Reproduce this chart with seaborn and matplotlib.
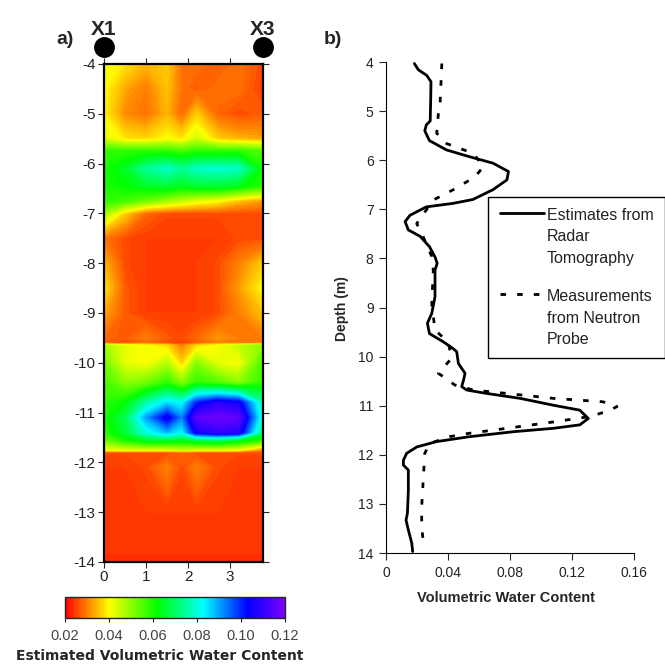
import numpy as np
import pandas as pd
import matplotlib
matplotlib.use('Agg')
import matplotlib.pyplot as plt
import seaborn as sns
from matplotlib.colors import LinearSegmentedColormap, Normalize
from matplotlib.lines import Line2D
from matplotlib.legend_handler import HandlerLine2D

sns.set_style('ticks')
plt.rcParams['font.family'] = ['Liberation Sans', 'DejaVu Sans']
plt.rcParams['axes.unicode_minus'] = False

# ---------------- data: panel a (tomogram) ----------------
section_x = [0.0, 0.5, 1.0, 1.5, 1.85, 2.2, 2.7, 3.2, 3.78]
section_depth = [-4.0, -4.5, -5.0, -5.5, -5.75, -6.1, -6.45, -6.75, -7.0, -7.5,
                 -8.0, -8.5, -9.0, -9.5, -9.6, -9.65, -10.0, -10.4, -10.8, -11.1,
                 -11.4, -11.55, -11.75, -11.8, -12.1, -13.0, -14.0]
section_wc = [
    [0.042, 0.038, 0.034, 0.036, 0.029, 0.029, 0.027, 0.029, 0.026],
    [0.040, 0.033, 0.030, 0.035, 0.029, 0.027, 0.029, 0.029, 0.025],
    [0.039, 0.031, 0.029, 0.034, 0.028, 0.036, 0.028, 0.026, 0.027],
    [0.043, 0.038, 0.037, 0.040, 0.038, 0.044, 0.036, 0.034, 0.033],
    [0.058, 0.058, 0.058, 0.058, 0.056, 0.058, 0.058, 0.058, 0.055],
    [0.060, 0.065, 0.074, 0.078, 0.074, 0.078, 0.079, 0.078, 0.060],
    [0.060, 0.062, 0.065, 0.066, 0.064, 0.066, 0.066, 0.064, 0.058],
    [0.058, 0.056, 0.052, 0.048, 0.045, 0.042, 0.040, 0.035, 0.032],
    [0.048, 0.036, 0.028, 0.026, 0.026, 0.026, 0.026, 0.026, 0.026],
    [0.029, 0.026, 0.025, 0.025, 0.025, 0.025, 0.025, 0.026, 0.026],
    [0.034, 0.026, 0.025, 0.025, 0.025, 0.025, 0.026, 0.030, 0.036],
    [0.038, 0.027, 0.025, 0.025, 0.025, 0.025, 0.026, 0.032, 0.040],
    [0.033, 0.027, 0.025, 0.025, 0.025, 0.025, 0.026, 0.030, 0.035],
    [0.028, 0.027, 0.030, 0.027, 0.026, 0.028, 0.032, 0.030, 0.030],
    [0.027, 0.026, 0.028, 0.026, 0.025, 0.027, 0.030, 0.029, 0.029],
    [0.048, 0.042, 0.040, 0.037, 0.030, 0.037, 0.040, 0.045, 0.050],
    [0.052, 0.042, 0.040, 0.046, 0.036, 0.050, 0.042, 0.040, 0.056],
    [0.056, 0.050, 0.052, 0.058, 0.050, 0.058, 0.055, 0.050, 0.058],
    [0.058, 0.062, 0.075, 0.085, 0.082, 0.100, 0.108, 0.105, 0.075],
    [0.060, 0.068, 0.090, 0.105, 0.092, 0.115, 0.118, 0.116, 0.078],
    [0.058, 0.066, 0.080, 0.088, 0.082, 0.105, 0.110, 0.108, 0.070],
    [0.052, 0.060, 0.065, 0.066, 0.064, 0.068, 0.070, 0.065, 0.058],
    [0.040, 0.042, 0.042, 0.042, 0.044, 0.042, 0.042, 0.040, 0.030],
    [0.026, 0.026, 0.026, 0.026, 0.028, 0.026, 0.026, 0.026, 0.026],
    [0.025, 0.025, 0.026, 0.030, 0.026, 0.030, 0.026, 0.025, 0.025],
    [0.025, 0.025, 0.025, 0.025, 0.025, 0.025, 0.025, 0.025, 0.025],
    [0.024, 0.024, 0.024, 0.024, 0.024, 0.024, 0.024, 0.024, 0.024],
]
borehole_x = [0.0, 3.78]
borehole_labels = ['X1', 'X3']
cbar_ticks = [0.02, 0.04, 0.06, 0.08, 0.10, 0.12]
cbar_ticklabels = ['0.02', '0.04', '0.06', '0.08', '0.10', '0.12']

# ---------------- data: panel b (profiles) ----------------
radar_depth = [4.03, 4.16, 4.27, 4.4, 4.8, 5.2, 5.28, 5.4, 5.6, 5.79, 5.93, 6.06,
               6.23, 6.4, 6.6, 6.8, 6.88, 6.95, 7.12, 7.25, 7.42, 7.55, 7.76, 7.97,
               8.1, 8.24, 8.78, 9.12, 9.32, 9.53, 9.7, 9.83, 9.9, 10.14, 10.34,
               10.48, 10.61, 10.68, 10.75, 10.85, 10.99, 11.09, 11.26, 11.39, 11.46,
               11.53, 11.63, 11.73, 11.84, 11.97, 12.11, 12.21, 12.31, 12.72, 13.19,
               13.33, 13.53, 13.8, 13.97]
radar_wc = [0.0183, 0.0209, 0.0262, 0.0290, 0.0288, 0.0285, 0.026, 0.025, 0.028,
            0.039, 0.054, 0.069, 0.079, 0.078, 0.069, 0.056, 0.043, 0.026, 0.0155,
            0.0123, 0.0144, 0.022, 0.028, 0.0316, 0.033, 0.0316, 0.0316, 0.0295,
            0.0267, 0.028, 0.037, 0.043, 0.0456, 0.0467, 0.051, 0.050, 0.0488,
            0.052, 0.065, 0.0865, 0.108, 0.125, 0.1305, 0.125, 0.108, 0.082, 0.054,
            0.0327, 0.0198, 0.0133, 0.0112, 0.0112, 0.0144, 0.0144, 0.0138, 0.0129,
            0.0144, 0.0166, 0.0172]
probe_depth = [4.03, 4.9, 5.04, 5.45, 5.66, 5.86, 6.13, 6.34, 6.6, 6.81, 7.29, 7.49,
               7.96, 8.24, 8.92, 9.46, 9.7, 10.03, 10.34, 10.58, 10.68, 10.75, 10.85,
               10.92, 11.02, 11.12, 11.22, 11.33, 11.46, 11.56, 11.63, 11.77, 11.97,
               12.51, 13.06, 13.46, 13.77]
probe_wc = [0.036, 0.0348, 0.0338, 0.0327, 0.039, 0.0563, 0.0628, 0.0574, 0.0434,
            0.0305, 0.0198, 0.023, 0.0295, 0.0305, 0.0295, 0.0316, 0.040, 0.0424,
            0.0338, 0.0445, 0.0563, 0.0779, 0.108, 0.140, 0.149, 0.142, 0.1316,
            0.108, 0.078, 0.054, 0.041, 0.028, 0.025, 0.024, 0.023, 0.023, 0.024]
legend_labels = ['Estimates from\nRadar\nTomography', 'Measurements\nfrom Neutron\nProbe']
xb_ticks = [0, 0.04, 0.08, 0.12, 0.16]
xb_ticklabels = ['0', '0.04', '0.08', '0.12', '0.16']

# ---------------- figure ----------------
fig = plt.figure(figsize=(6.65, 6.7), dpi=100)

cmap = LinearSegmentedColormap.from_list('wc', [
    (0.0, '#ff0000'), (0.1, '#ff8000'), (0.2, '#ffff00'), (0.42, '#00ff00'),
    (0.63, '#00ffff'), (0.83, '#0000ff'), (1.0, '#7a00ff')])
norm = Normalize(0.02, 0.12)

# panel a
axa = fig.add_axes([0.1564, 0.1612, 0.2391, 0.7433])
X, Y = np.meshgrid(section_x, section_depth)
axa.contourf(X, Y, np.array(section_wc), levels=np.linspace(0.02, 0.12, 121),
             cmap=cmap, norm=norm, extend='both')
axa.set_xlim(0, 3.78)
axa.set_ylim(-14, -4)
axa.set_xticks([0, 1, 2, 3])
axa.set_yticks(np.arange(-14, -3, 1))
axa.tick_params(top=True, right=True, direction='out', length=4, width=0.8,
                labelsize=11, labelcolor='#222222', pad=2)
for s in axa.spines.values():
    s.set_linewidth(1.6)
    s.set_color('black')
axa.plot(borehole_x, [-3.66] * len(borehole_x), 'o', color='black', ms=14,
         clip_on=False, zorder=5)
for bx, bl in zip(borehole_x, borehole_labels):
    axa.text(bx, -3.3, bl, ha='center', va='center', fontsize=15,
             fontweight='bold', clip_on=False)
fig.text(65 / 665, 1 - 40 / 670, 'a)', fontsize=14, fontweight='bold',
         ha='center', va='center')

# colorbar
cax = fig.add_axes([0.0977, 0.0776, 0.3309, 0.0313])
sm = plt.cm.ScalarMappable(norm=norm, cmap=cmap)
cb = fig.colorbar(sm, cax=cax, orientation='horizontal', ticks=cbar_ticks)
cb.set_ticklabels(cbar_ticklabels)
cb.outline.set_linewidth(1.0)
cax.tick_params(labelsize=10.5, labelcolor='#444444', length=3, pad=5)
fig.text(160 / 665, 1 - 656 / 670, 'Estimated Volumetric Water Content',
         fontsize=10, fontweight='bold', family='DejaVu Sans',
         ha='center', va='center')

# panel b
axb = fig.add_axes([0.5805, 0.1746, 0.3729, 0.7328])
df_radar = pd.DataFrame({'wc': radar_wc, 'depth': radar_depth})
df_probe = pd.DataFrame({'wc': probe_wc, 'depth': probe_depth})
sns.lineplot(data=df_radar, x='wc', y='depth', sort=False, estimator=None,
             color='black', lw=2.0, ax=axb)
sns.lineplot(data=df_probe, x='wc', y='depth', sort=False, estimator=None,
             color='black', lw=2.0, ls=(0, (2, 4)), ax=axb)
axb.set_xlim(0, 0.16)
axb.set_ylim(14, 4)
axb.set_xticks(xb_ticks)
axb.set_xticklabels(xb_ticklabels)
axb.set_yticks(np.arange(4, 15, 1))
axb.tick_params(direction='out', length=5, width=0.8, labelsize=10,
                labelcolor='#222222', pad=4)
sns.despine(ax=axb)
for s in axb.spines.values():
    s.set_color('black')
axb.set_xlabel('Volumetric Water Content', fontsize=10.5, fontweight='bold')
axb.set_ylabel('Depth (m)', fontsize=10, fontweight='bold')
axb.xaxis.set_label_coords(0.484, -0.077)
axb.yaxis.set_label_coords(-0.15, 0.497)
fig.text(333 / 665, 1 - 40 / 670, 'b)', fontsize=14, fontweight='bold',
         ha='center', va='center')


class HandlerTop(HandlerLine2D):
    def create_artists(self, legend, orig_handle, xdescent, ydescent, width,
                       height, fontsize, trans):
        arts = super().create_artists(legend, orig_handle, xdescent, ydescent,
                                      width, height, fontsize, trans)
        for a in arts:
            a.set_ydata(np.asarray(a.get_ydata()) + fontsize * 1.55)
        return arts


handles = [Line2D([], [], color='black', lw=2.0),
           Line2D([], [], color='black', lw=2.0, ls=(0, (2, 4)))]
leg = axb.legend(handles, legend_labels, loc='upper left',
                 bbox_to_anchor=(0.413, 0.726), frameon=True, fancybox=False,
                 edgecolor='black', framealpha=1,
                 handlelength=2.75, handletextpad=0.2, borderpad=0.7,
                 labelspacing=1.45, borderaxespad=0,
                 handler_map={Line2D: HandlerTop()},
                 prop={'family': ['Liberation Sans'], 'size': 11.5})
leg.get_frame().set_linewidth(1.0)
for t in leg.get_texts():
    t.set_color('#222222')
    t.set_linespacing(1.55)

fig.savefig('out.png', dpi=100)
